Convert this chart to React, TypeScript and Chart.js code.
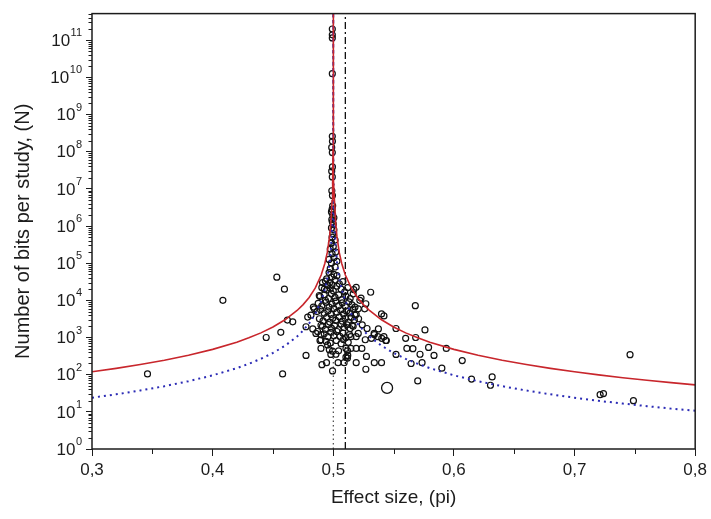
import React, { useEffect, useRef } from 'react';
import { Chart, registerables } from 'chart.js';

Chart.register(...registerables);

// axes
const xMajorTicks = [0.3, 0.4, 0.5, 0.6, 0.7, 0.8];
const xMinorTicks = [0.35, 0.45, 0.55, 0.65, 0.75];
const yDecades = [1, 1e1, 1e2, 1e3, 1e4, 1e5, 1e6, 1e7, 1e8, 1e9, 1e10, 1e11];
const yTop = 5.2e11;

// reference lines
const nullEffect = 0.5;
const meanEffect = 0.51;

// upper (red) funnel bound
const redBound: [number, number][] = [
  [0.3, 120], [0.32, 148], [0.34, 188], [0.36, 245], [0.38, 333], [0.4, 480], [0.42, 750],
  [0.43, 980], [0.44, 1333], [0.45, 1920], [0.46, 3000], [0.47, 5333], [0.475, 7680],
  [0.48, 12000], [0.485, 21300], [0.49, 48000], [0.493, 98000], [0.495, 192000],
  [0.497, 533000], [0.498, 1.2e6], [0.499, 4.8e6], [0.4995, 1.9e7], [0.4998, 1.2e8],
  [0.4999, 4.8e8], [0.49997, 5.3e9], [0.49999, 4.8e10], [0.499997, 5.3e11],
  [0.500003, 5.3e11], [0.50001, 4.8e10], [0.50003, 5.3e9], [0.5001, 4.8e8], [0.5002, 1.2e8],
  [0.5005, 1.9e7], [0.501, 4.8e6], [0.502, 1.2e6], [0.503, 533000], [0.505, 192000],
  [0.507, 98000], [0.51, 48000], [0.515, 21300], [0.52, 12000], [0.525, 7680], [0.53, 5333],
  [0.54, 3000], [0.55, 1920], [0.56, 1333], [0.57, 980], [0.58, 750], [0.6, 480], [0.62, 333],
  [0.64, 245], [0.66, 188], [0.68, 148], [0.7, 120], [0.72, 99], [0.74, 83], [0.76, 71],
  [0.78, 61], [0.8, 53],
];

// lower (blue dotted) funnel bound
const blueBound: [number, number][] = [
  [0.3, 24], [0.32, 29.6], [0.34, 37.5], [0.36, 49], [0.38, 66.7], [0.4, 96], [0.42, 150],
  [0.43, 196], [0.44, 267], [0.45, 384], [0.46, 600], [0.47, 1067], [0.475, 1536],
  [0.48, 2400], [0.485, 4270], [0.49, 9600], [0.493, 19600], [0.495, 38400],
  [0.497, 107000], [0.498, 240000], [0.499, 960000], [0.4995, 3.84e6], [0.4998, 2.4e7],
  [0.4999, 9.6e7], [0.49997, 1.07e9], [0.49999, 9.6e9], [0.499997, 1.07e11], [0.499999, 9.6e11],
  [0.500001, 9.6e11], [0.500003, 1.07e11], [0.50001, 9.6e9], [0.50003, 1.07e9], [0.5001, 9.6e7],
  [0.5002, 2.4e7], [0.5005, 3.84e6], [0.501, 960000], [0.502, 240000], [0.503, 107000],
  [0.505, 38400], [0.507, 19600], [0.51, 9600], [0.515, 4270], [0.52, 2400], [0.525, 1536],
  [0.53, 1067], [0.54, 600], [0.55, 384], [0.56, 267], [0.57, 196], [0.58, 150], [0.6, 96],
  [0.62, 66.7], [0.64, 49], [0.66, 37.5], [0.68, 29.6], [0.7, 24], [0.72, 19.8], [0.74, 16.7],
  [0.76, 14.2], [0.78, 12.2], [0.8, 10.7],
];

// studies: [effect size, bits]
const studies: [number, number][] = [
  // outer points
  [0.346, 105], [0.4085, 1.0e4], [0.4444, 1000], [0.4532, 4.2e4], [0.4595, 2.0e4],
  [0.4565, 1380], [0.458, 105], [0.462, 2950], [0.4664, 2650], [0.4774, 330], [0.4774, 1950],
  [0.4788, 3550], [0.4815, 4000], [0.4835, 6600], [0.4843, 5900], [0.487, 1450], [0.4898, 870],
  [0.4898, 510], [0.4953, 630], [0.4967, 470], [0.4994, 430], [0.4906, 186], [0.4944, 210],
  [0.4994, 126], [0.4911, 3.0e4], [0.4926, 2.0e4], [0.4884, 1.35e4], [0.483, 1700],
  [0.4856, 1290], [0.4898, 2140], [0.4898, 1200], [0.489, 830], [0.498, 350], [0.5022, 355],
  [0.5044, 437], [0.5105, 510], [0.5118, 437], [0.5105, 295], [0.504, 210], [0.509, 210],
  [0.519, 210], [0.534, 210], [0.54, 210], [0.527, 140], [0.57, 68], [0.568, 7200],
  [0.576, 1600], [0.579, 540], [0.5835, 330], [0.59, 150], [0.5736, 210], [0.5645, 200],
  [0.561, 510], [0.566, 500], [0.56, 950], [0.552, 1750], [0.552, 350], [0.54, 4300],
  [0.542, 3800], [0.531, 1.65e4], [0.528, 1750], [0.534, 1200], [0.537, 1050], [0.542, 1050],
  [0.5435, 830], [0.5265, 870], [0.5207, 1290], [0.524, 2190], [0.519, 510], [0.5237, 510],
  [0.519, 1050], [0.5146, 1050], [0.5124, 740], [0.512, 330], [0.522, 1.0e4], [0.517, 1.95e4],
  [0.519, 2.24e4], [0.523, 1.15e4], [0.526, 5900], [0.5207, 5900], [0.518, 4000],
  [0.5157, 2140], [0.527, 8100], [0.5374, 1700], [0.5339, 1290], [0.5402, 950], [0.544, 830],
  [0.5316, 950], [0.5683, 1000], [0.5937, 510], [0.5719, 355], [0.6069, 240], [0.6146, 76],
  [0.6317, 87], [0.6303, 52], [0.7212, 29], [0.724, 31], [0.7488, 20], [0.746, 345],
  [0.5146, 510], [0.5275, 310], [0.5118, 280],
  // dense core
  [0.4965, 5.6e4], [0.5005, 5.0e4], [0.4985, 4.2e4], [0.503, 4.6e4], [0.4945, 3.8e4],
  [0.4935, 3.3e4], [0.497, 3.0e4], [0.5015, 3.5e4], [0.505, 2.8e4], [0.508, 3.2e4], [0.499, 2.6e4],
  [0.4905, 2.2e4], [0.4945, 1.9e4], [0.4975, 2.1e4], [0.5, 1.8e4], [0.503, 2.4e4],
  [0.5065, 2.0e4], [0.5095, 1.7e4], [0.512, 2.2e4], [0.4955, 2.5e4],
  [0.489, 1.26e4], [0.4925, 1.4e4], [0.496, 1.12e4], [0.4985, 1.5e4], [0.5015, 1.2e4],
  [0.5045, 1.4e4], [0.507, 1.05e4], [0.5105, 1.3e4], [0.514, 1.12e4], [0.5165, 1.5e4], [0.4935, 1.0e4],
  [0.4875, 8300], [0.4905, 7100], [0.494, 8900], [0.4965, 6600], [0.499, 7900], [0.502, 9500],
  [0.5045, 7200], [0.5075, 8500], [0.51, 6900], [0.513, 9100], [0.5155, 7600], [0.518, 6600],
  [0.4865, 5000], [0.4895, 5600], [0.4925, 4500], [0.4955, 5200], [0.498, 4200], [0.5005, 6000],
  [0.503, 4800], [0.506, 5500], [0.5085, 4300], [0.511, 5100], [0.514, 4600], [0.5165, 5800], [0.519, 4200],
  [0.4885, 3200], [0.4915, 2800], [0.4945, 3500], [0.497, 2600], [0.4995, 3300], [0.502, 2900],
  [0.505, 3600], [0.5075, 2750], [0.51, 3300], [0.5125, 2600], [0.515, 3500], [0.5175, 2950], [0.521, 3200],
  [0.491, 2000], [0.4935, 1660], [0.496, 2240], [0.4985, 1780], [0.501, 2100], [0.504, 1620],
  [0.5065, 2300], [0.509, 1860], [0.5115, 2200], [0.514, 1740], [0.5165, 2000],
  [0.4925, 1260], [0.4955, 1050], [0.498, 1380], [0.5005, 1120], [0.503, 1450], [0.5055, 1070],
  [0.508, 1320], [0.5105, 1000], [0.5135, 1200],
  [0.494, 790], [0.4975, 710], [0.5025, 830], [0.5065, 680], [0.5085, 890],
  // stem
  [0.4975, 7.1e4], [0.5015, 7.9e4], [0.4985, 1.0e5], [0.503, 1.12e5], [0.4965, 1.26e5],
  [0.5005, 1.4e5], [0.499, 1.8e5], [0.502, 2.0e5], [0.4975, 2.4e5], [0.5, 2.8e5], [0.4985, 3.5e5],
  [0.5015, 4.2e5], [0.499, 5.0e5], [0.4995, 6.3e5], [0.5005, 7.9e5], [0.4985, 8.9e5],
  [0.5, 1.12e6], [0.4992, 1.3e6], [0.4988, 1.5e6], [0.5005, 1.66e6], [0.4995, 2.0e6],
  [0.4985, 2.4e6], [0.499, 2.8e6], [0.4995, 3.5e6],
  [0.4993, 6.6e6], [0.4988, 8.9e6], [0.4992, 2.1e7], [0.4987, 3.0e7], [0.4993, 3.9e7],
  [0.4992, 9.5e7], [0.4987, 1.3e8], [0.4993, 1.9e8], [0.4992, 2.6e8],
  [0.4992, 1.26e10], [0.4992, 1.15e11], [0.4992, 1.4e11], [0.4992, 2.0e11],
];

const bigStudy: [number, number][] = [[0.5446, 44]];

const FONT = 'Arial, "Liberation Sans", Helvetica, sans-serif';
const INK = '#1c1c1c';

const toXY = (pts: [number, number][]) => pts.map(([x, y]) => ({ x, y }));

// minor ticks, the closed frame and the 10^n labels with raised exponents
const axisExtras = {
  id: 'axisExtras',
  afterDraw(chart: any) {
    const { ctx, chartArea: a, scales } = chart;
    ctx.save();
    ctx.strokeStyle = INK;
    ctx.lineWidth = 1;
    ctx.beginPath();
    yDecades.forEach((d) => {
      for (let k = 2; k <= 9; k++) {
        const v = d * k;
        if (v > yTop) break;
        const y = Math.round(scales.y.getPixelForValue(v)) + 0.5;
        ctx.moveTo(a.left - 3.5, y);
        ctx.lineTo(a.left, y);
      }
    });
    xMinorTicks.forEach((v) => {
      const x = Math.round(scales.x.getPixelForValue(v)) + 0.5;
      ctx.moveTo(x, a.bottom);
      ctx.lineTo(x, a.bottom + 5);
    });
    ctx.stroke();
    ctx.lineWidth = 1.5;
    ctx.strokeRect(a.left, a.top, a.right - a.left, a.bottom - a.top);

    ctx.fillStyle = INK;
    ctx.textBaseline = 'middle';
    ctx.textAlign = 'right';
    const right = a.left - 10;
    yDecades.forEach((d) => {
      const y = scales.y.getPixelForValue(d);
      const exp = String(Math.round(Math.log10(d)));
      ctx.font = `11px ${FONT}`;
      const w = ctx.measureText(exp).width;
      ctx.fillText(exp, right, y - 7);
      ctx.font = `17px ${FONT}`;
      ctx.fillText('10', right - w - 0.5, y + 1);
    });
    ctx.restore();
  },
};

function FunnelChart() {
  const canvasRef = useRef<HTMLCanvasElement>(null);

  useEffect(() => {
    document.body.style.margin = '0';
    const ctx = canvasRef.current?.getContext('2d');
    if (!ctx) return;
    const chart = new Chart(ctx, {
      type: 'scatter',
      data: {
        datasets: [
          {
            data: toXY(redBound),
            showLine: true,
            borderColor: '#c8262c',
            borderWidth: 1.6,
            pointRadius: 0,
            order: 0,
          },
          {
            data: toXY(blueBound),
            showLine: true,
            borderColor: '#2b2bb5',
            borderWidth: 2,
            borderDash: [2, 4],
            pointRadius: 0,
            order: 1,
          },
          {
            data: toXY(studies),
            pointStyle: 'circle',
            pointRadius: 3,
            borderWidth: 1.2,
            borderColor: '#111',
            backgroundColor: 'rgba(0,0,0,0)',
            order: 2,
          },
          {
            data: toXY(bigStudy),
            pointStyle: 'circle',
            pointRadius: 5.5,
            borderWidth: 1.3,
            borderColor: '#111',
            backgroundColor: 'rgba(0,0,0,0)',
            order: 2,
          },
          {
            data: [{ x: nullEffect, y: 1 }, { x: nullEffect, y: yTop }],
            showLine: true,
            borderColor: '#222',
            borderWidth: 1,
            borderDash: [1.5, 3],
            pointRadius: 0,
            order: 3,
          },
          {
            data: [{ x: meanEffect, y: 1 }, { x: meanEffect, y: yTop }],
            showLine: true,
            borderColor: '#111',
            borderWidth: 1.3,
            borderDash: [7, 3, 2, 3],
            pointRadius: 0,
            order: 3,
          },
        ],
      },
      options: {
        animation: false,
        responsive: true,
        maintainAspectRatio: false,
        layout: { padding: { top: 7, right: 14, left: 0, bottom: 0 } },
        plugins: { legend: { display: false }, tooltip: { enabled: false } },
        scales: {
          x: {
            type: 'linear',
            min: 0.3,
            max: 0.8,
            afterBuildTicks: (scale: any) => {
              scale.ticks = xMajorTicks.map((value) => ({ value }));
            },
            afterFit: (scale: any) => {
              scale.height = 70;
            },
            ticks: {
              color: INK,
              font: { family: FONT, size: 17 },
              padding: 4,
              maxRotation: 0,
              callback: (value: any) => Number(value).toFixed(1).replace('.', ','),
            },
            grid: { drawOnChartArea: false, drawTicks: true, tickLength: 7, color: INK, lineWidth: 1 },
            border: { display: false },
            title: {
              display: true,
              text: 'Effect size, (pi)',
              color: INK,
              font: { family: FONT, size: 19 },
              padding: { top: 0, bottom: 10 },
            },
          },
          y: {
            type: 'logarithmic',
            min: 1,
            max: yTop,
            afterBuildTicks: (scale: any) => {
              scale.ticks = yDecades.map((value) => ({ value }));
            },
            afterFit: (scale: any) => {
              scale.width = 92;
            },
            ticks: {
              color: 'rgba(0,0,0,0)',
              font: { family: FONT, size: 16 },
              padding: 4,
              callback: () => '',
            },
            grid: { drawOnChartArea: false, drawTicks: true, tickLength: 6, color: INK, lineWidth: 1 },
            border: { display: false },
            title: {
              display: true,
              text: 'Number of bits per study, (N)',
              color: INK,
              font: { family: FONT, size: 20 },
              padding: { top: 11, bottom: 0 },
            },
          },
        },
      },
      plugins: [axisExtras],
    });

    return () => {
      chart.destroy();
    };
  }, []);

  return (
    <div style={{ position: 'relative', width: 711, height: 519, background: '#fff' }}>
      <canvas ref={canvasRef} />
    </div>
  );
}

export default function App() {
  return <FunnelChart />;
}
